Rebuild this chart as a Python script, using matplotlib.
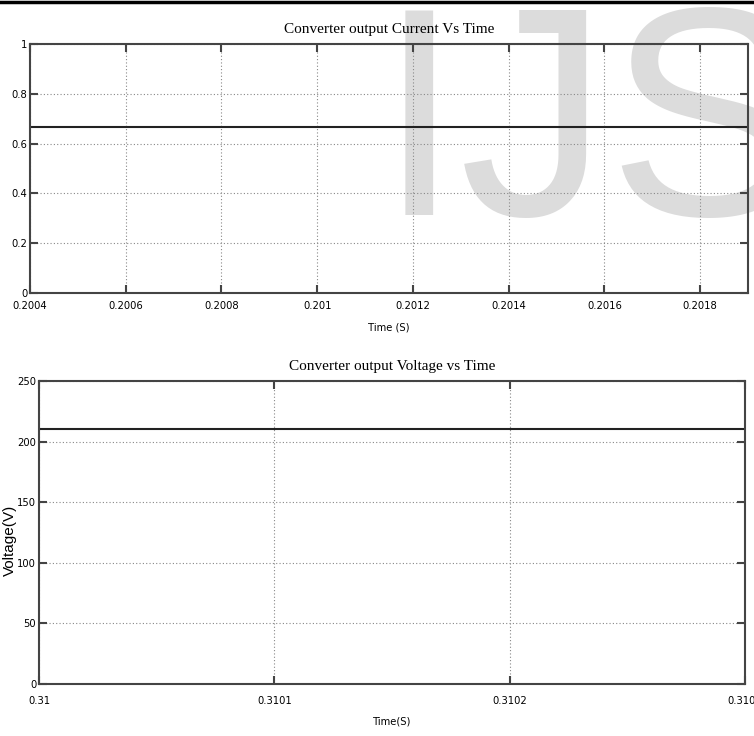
import matplotlib
matplotlib.use("Agg")
import matplotlib.pyplot as plt
from matplotlib.lines import Line2D

# data
current_time = [0.2004, 0.2019]
current_values = [0.667, 0.667]
current_xticks = [0.2004, 0.2006, 0.2008, 0.2010, 0.2012, 0.2014, 0.2016, 0.2018]
current_xlabels = ["0.2004", "0.2006", "0.2008", "0.201", "0.2012", "0.2014", "0.2016", "0.2018"]
current_yticks = [0, 0.2, 0.4, 0.6, 0.8, 1]
current_ylabels = ["0", "0.2", "0.4", "0.6", "0.8", "1"]

voltage_time = [0.31, 0.3103]
voltage_values = [210, 210]
voltage_xticks = [0.31, 0.3101, 0.3102, 0.3103]
voltage_xlabels = ["0.31", "0.3101", "0.3102", "0.3103"]
voltage_yticks = [0, 50, 100, 150, 200, 250]
voltage_ylabels = ["0", "50", "100", "150", "200", "250"]

W, H = 754, 736
fig = plt.figure(figsize=(W / 100, H / 100), dpi=100)

tick_kw = dict(family="DejaVu Sans", stretch="condensed", fontsize=8)
title_font = ["Liberation Serif", "DejaVu Serif"]
spine_col = "#444444"

# watermark, kept under the axes
fig.text(378 / W, 1 - 215 / H, "IJS", fontsize=214, color="#dcdcdc",
         family="Liberation Sans", ha="left", va="baseline", zorder=-5)

# frame line at the very top
fig.add_artist(Line2D([0, 1], [1 - 2 / H, 1 - 2 / H], color="black", lw=2.5))


def style_axes(ax, xticks, xlabels, yticks, ylabels, xpad):
    ax.set_xticks(xticks)
    ax.set_xticklabels(xlabels, **tick_kw)
    ax.set_yticks(yticks)
    ax.set_yticklabels(ylabels, **tick_kw)
    ax.tick_params(direction="in", length=6, width=1.5, color=spine_col,
                   top=True, right=True)
    ax.tick_params(axis="x", pad=xpad)
    ax.tick_params(axis="y", pad=2)
    ax.grid(True, linestyle=(0, (1, 2)), color="#888888", lw=0.8)
    for sp in ax.spines.values():
        sp.set_color(spine_col)
        sp.set_linewidth(1.5)
    ax.patch.set_alpha(0)


# top: converter output current
ax1 = fig.add_axes([30 / W, 1 - 293 / H, (748 - 30) / W, (293 - 44) / H])
ax1.plot(current_time, current_values, color="#222222", lw=1.5)
ax1.set_xlim(0.2004, 0.2019)
ax1.set_ylim(0, 1)
style_axes(ax1, current_xticks, current_xlabels, current_yticks, current_ylabels, 6)
ax1.set_title("Converter output Current Vs Time", family=title_font,
              fontsize=11, pad=8)
ax1.set_xlabel("Time (S)", labelpad=8, **tick_kw)

# bottom: converter output voltage
ax2 = fig.add_axes([39 / W, 1 - 684 / H, (745 - 39) / W, (684 - 381) / H])
ax2.plot(voltage_time, voltage_values, color="#222222", lw=1.5)
ax2.set_xlim(0.31, 0.3103)
ax2.set_ylim(0, 250)
style_axes(ax2, voltage_xticks, voltage_xlabels, voltage_yticks, voltage_ylabels, 9)
ax2.set_title("Converter output Voltage vs Time", family=title_font,
              fontsize=11, pad=8)
ax2.set_xlabel("Time(S)", labelpad=7, **tick_kw)
ax2.set_ylabel("Voltage(V)", family="Liberation Sans", fontsize=11)
ax2.yaxis.set_label_coords(-0.031, 0.475)

fig.savefig("out.png", dpi=100)
